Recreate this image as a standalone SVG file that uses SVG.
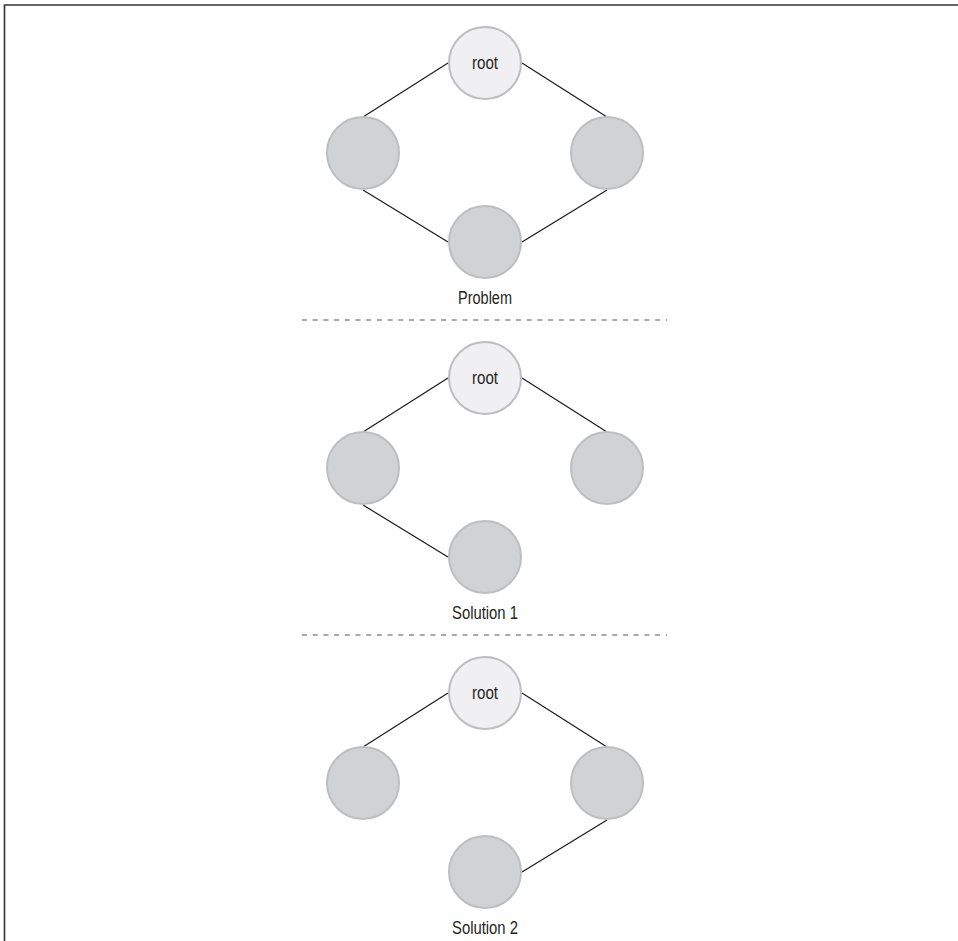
<svg xmlns="http://www.w3.org/2000/svg" width="958" height="941" viewBox="0 0 958 941">
<style>
.edge{stroke:#1a1a1a;stroke-width:1.2;fill:none}
.root{fill:#f0f0f2;stroke:#bdbec0;stroke-width:2}
.node{fill:#d1d2d4;stroke:#bdbec0;stroke-width:2}
.lbl{font-family:"Liberation Sans",Arial,sans-serif;font-size:17.5px;fill:#231f20;text-anchor:middle}
.sep{stroke:#a7a9ac;stroke-width:2;stroke-dasharray:5 5.7}
.frame{stroke:#333;stroke-width:1.6;fill:none}
</style>
<rect width="958" height="941" fill="#fff"/>
<path class="frame" d="M4.5,941 V5 H958"/>
<g id="connectors">
<line class="edge" x1="448" y1="63" x2="363" y2="117"/>
<line class="edge" x1="522" y1="63" x2="607" y2="117"/>
<line class="edge" x1="363" y1="190" x2="448" y2="242"/>
<line class="edge" x1="607" y1="190" x2="522" y2="242"/>
<line class="edge" x1="448" y1="378" x2="363" y2="432"/>
<line class="edge" x1="522" y1="378" x2="607" y2="432"/>
<line class="edge" x1="363" y1="505" x2="448" y2="557"/>
<line class="edge" x1="448" y1="693" x2="363" y2="747"/>
<line class="edge" x1="522" y1="693" x2="607" y2="747"/>
<line class="edge" x1="607" y1="820" x2="522" y2="872"/>
</g>
<g id="problem">
<g id="p-root"><circle class="root" cx="485" cy="63" r="36"/><text class="lbl" x="485" y="68.5" textLength="26" lengthAdjust="spacingAndGlyphs">root</text></g>
<g id="p-left"><circle class="node" cx="363" cy="153" r="36"/></g>
<g id="p-right"><circle class="node" cx="607" cy="153" r="36"/></g>
<g id="p-bottom"><circle class="node" cx="485" cy="242" r="36"/></g>
<text id="p-label" class="lbl" x="485" y="303.5" textLength="54" lengthAdjust="spacingAndGlyphs">Problem</text>
</g>
<line id="sep1" class="sep" x1="302" y1="320" x2="667" y2="320"/>
<g id="solution1">
<g id="s1-root"><circle class="root" cx="485" cy="378" r="36"/><text class="lbl" x="485" y="383.5" textLength="26" lengthAdjust="spacingAndGlyphs">root</text></g>
<g id="s1-left"><circle class="node" cx="363" cy="468" r="36"/></g>
<g id="s1-right"><circle class="node" cx="607" cy="468" r="36"/></g>
<g id="s1-bottom"><circle class="node" cx="485" cy="557" r="36"/></g>
<text id="s1-label" class="lbl" x="485" y="618.5" textLength="66" lengthAdjust="spacingAndGlyphs">Solution 1</text>
</g>
<line id="sep2" class="sep" x1="302" y1="635" x2="667" y2="635"/>
<g id="solution2">
<g id="s2-root"><circle class="root" cx="485" cy="693" r="36"/><text class="lbl" x="485" y="698.5" textLength="26" lengthAdjust="spacingAndGlyphs">root</text></g>
<g id="s2-left"><circle class="node" cx="363" cy="783" r="36"/></g>
<g id="s2-right"><circle class="node" cx="607" cy="783" r="36"/></g>
<g id="s2-bottom"><circle class="node" cx="485" cy="872" r="36"/></g>
<text id="s2-label" class="lbl" x="485" y="933.5" textLength="66" lengthAdjust="spacingAndGlyphs">Solution 2</text>
</g>
</svg>
